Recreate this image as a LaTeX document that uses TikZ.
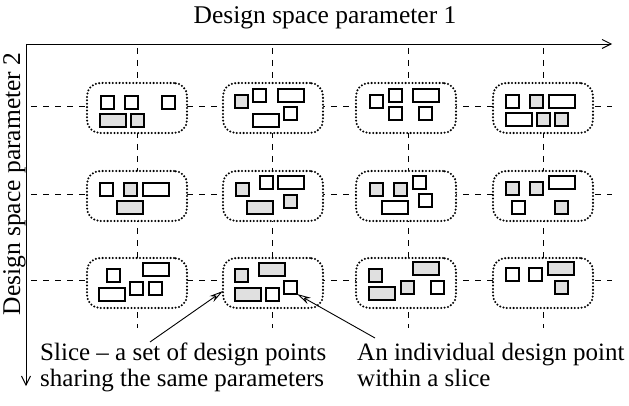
\documentclass[tikz,border=0pt]{standalone}
\usepackage{fontspec}
\setmainfont{Liberation Serif}
\usetikzlibrary{arrows.meta}
% design point: name, left, top, width, height, extra style
\newcommand\dpoint[6]{\node[dpt,#6,minimum width=#4pt,minimum height=#5pt] (#1) at ({#2+#4/2},{#3+#5/2}) {};}
\newcommand\sq[4]{\dpoint{#1}{#2}{#3}{13}{13}{#4}}
\newcommand\rc[4]{\dpoint{#1}{#2}{#3}{26}{13}{#4}}
\begin{document}
\begin{tikzpicture}[x=1pt,y=-1pt,
  grid/.style={line width=0.9pt, dash pattern=on 6pt off 6pt},
  slice/.style={draw, fill=white, rounded corners=13pt, line width=2.3pt,
    dash pattern=on 0pt off 3.4pt, line cap=round,
    minimum width=100pt, minimum height=50pt, inner sep=0pt, outer sep=0pt},
  dpt/.style={draw, line width=1.6pt, inner sep=0pt, outer sep=0pt},
  shd/.style={fill=black!12},
  axis/.style={line width=0.9pt, -{Straight Barb[length=9pt,width=9pt]}},
  ptr/.style={line width=0.9pt, -{Stealth[open,length=14pt,width=7pt]}},
  lbl/.style={font=\fontsize{25}{26}\selectfont, inner sep=0pt, align=left},
  ttl/.style={font=\fontsize{25.5}{26}\selectfont, inner sep=0pt}
]
\useasboundingbox (0,0) rectangle (629,406);

% axes
\coordinate (o) at (26,44);
\coordinate (xe) at (612,44);
\coordinate (ye) at (26,386);
\draw[axis] (o) -- (xe);
\draw[axis] (o) -- (ye);
\node[ttl] (xl) at (325,18) {Design space parameter 1};
\node[ttl, rotate=90, anchor=base] (yl) at (20,184) {Design space parameter 2};

% parameter grid
\foreach \y [count=\i] in {106,194,280} {
  \coordinate (hl\i) at (31,\y);
  \coordinate (hr\i) at (612,\y);
  \draw[grid] (hl\i) -- (hr\i);
}
\foreach \x [count=\j] in {137,272,408,543} {
  \coordinate (vt\j) at (\x,48);
  \coordinate (vb\j) at (\x,328);
  \draw[grid] (vt\j) -- (vb\j);
}

% slices
\foreach \x [count=\j] in {137,273,406,543} {
  \foreach \y [count=\i] in {108,196,283} {
    \node[slice] (s\i\j) at (\x,\y) {};
  }
}

% design points, row 1
\sq{p111}{101}{96}{}  \sq{p112}{125}{96}{}  \sq{p113}{162}{96}{}
\rc{p114}{100}{114}{shd} \sq{p115}{131}{114}{shd}
\sq{p121}{235}{95}{shd} \sq{p122}{253}{89}{} \rc{p123}{278}{89}{}
\rc{p124}{253}{114}{} \sq{p125}{284}{107}{}
\sq{p131}{370}{95}{} \sq{p132}{389}{89}{} \sq{p133}{389}{107}{}
\rc{p134}{413}{89}{} \sq{p135}{419}{107}{}
\sq{p141}{506}{95}{} \sq{p142}{530}{95}{shd} \rc{p143}{549}{95}{}
\rc{p144}{506}{113}{} \sq{p145}{537}{113}{shd} \sq{p146}{555}{113}{shd}

% design points, row 2
\sq{p211}{100}{183}{} \sq{p212}{124}{183}{shd} \rc{p213}{143}{183}{}
\rc{p214}{117}{201}{shd}
\sq{p221}{236}{183}{shd} \sq{p222}{260}{176}{} \rc{p223}{278}{176}{}
\rc{p224}{247}{201}{shd} \sq{p225}{284}{195}{shd}
\sq{p231}{370}{183}{shd} \sq{p232}{394}{183}{shd} \sq{p233}{413}{176}{}
\sq{p234}{419}{194}{} \rc{p235}{382}{201}{}
\sq{p241}{506}{182}{shd} \sq{p242}{530}{182}{shd} \rc{p243}{549}{176}{}
\sq{p244}{512}{201}{} \sq{p245}{555}{201}{shd}

% design points, row 3
\sq{p311}{107}{269}{} \rc{p312}{143}{263}{} \rc{p313}{99}{288}{}
\sq{p314}{130}{282}{} \sq{p315}{149}{282}{}
\sq{p321}{235}{269}{shd} \rc{p322}{259}{263}{shd} \rc{p323}{235}{288}{shd}
\sq{p324}{266}{288}{} \sq{p325}{284}{281}{}
\sq{p331}{369}{269}{shd} \rc{p332}{413}{262}{shd} \rc{p333}{369}{287}{shd}
\sq{p334}{401}{281}{shd} \sq{p335}{431}{281}{}
\sq{p341}{506}{268}{} \sq{p342}{529}{268}{} \rc{p343}{548}{262}{shd}
\sq{p344}{555}{281}{shd}

% callouts
\node[lbl, anchor=north west] (t1) at (40,343) {Slice -- a set of design points\\sharing the same parameters};
\node[lbl, anchor=north west] (t2) at (357,343) {An individual design point\\within a slice};
\coordinate (t1a) at (150,342);
\coordinate (t2a) at (375,338);
\draw[ptr] (t1a) -- (s32.west |- 0,291);
\draw[ptr] (t2a) -- (p325.south east);
\end{tikzpicture}
\end{document}
